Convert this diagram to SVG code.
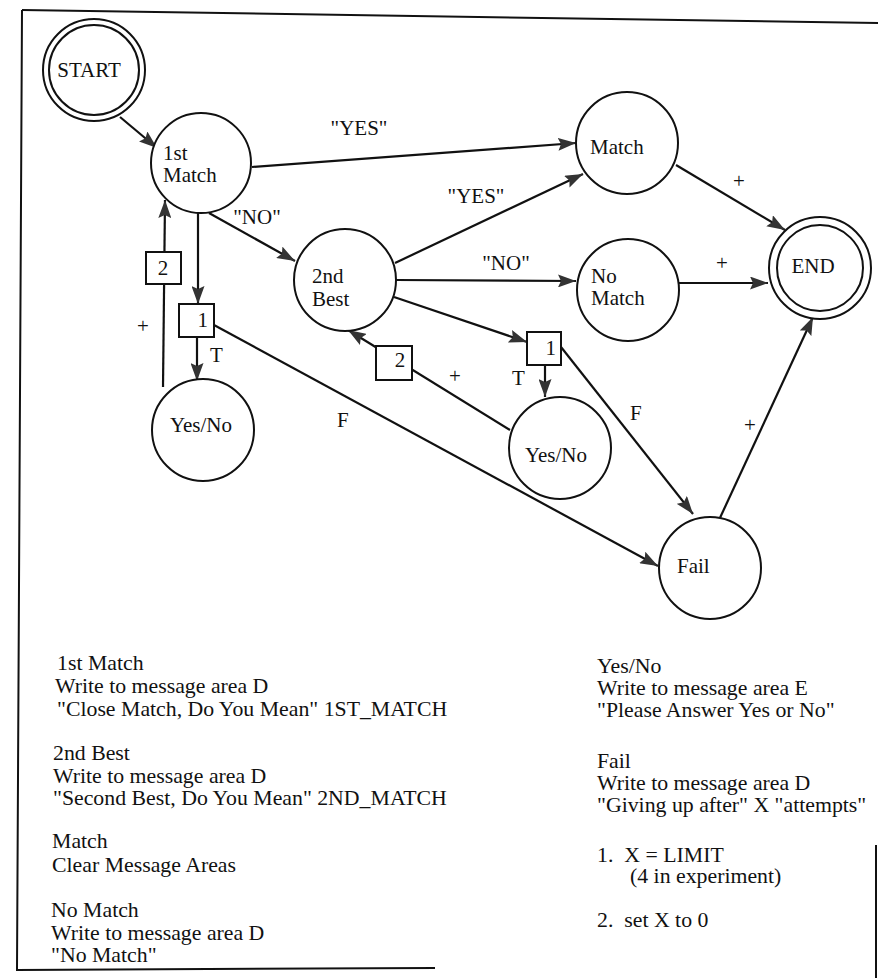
<svg xmlns="http://www.w3.org/2000/svg" width="878" height="978" viewBox="0 0 878 978">
<style>
text{font-family:"Liberation Serif","Times New Roman",serif;fill:#111;white-space:pre}
.n{font-size:21px}
.l{font-size:21.8px}
.c{fill:#fff;stroke:#111;stroke-width:2}
.b{fill:#fff;stroke:#111;stroke-width:2}
.e{stroke:#111;stroke-width:2.2;fill:none;marker-end:url(#ah)}
.f{stroke:#111;stroke-width:2;fill:none}
</style>
<defs>
<marker id="ah" markerUnits="userSpaceOnUse" markerWidth="19" markerHeight="13" refX="18" refY="6.5" orient="auto">
<path d="M0,0 L18,6.5 L0,13 L3,6.5 z" fill="#333"/>
</marker>
</defs>
<rect width="878" height="978" fill="#fff"/>
<g id="frame">
<path class="f" d="M22,10 L878,23"/>
<path class="f" d="M22,10 L17,970 L435,968"/>
<path class="f" d="M876,845 L876,978"/>
</g>
<g id="connectors">
<line class="e" x1="120" y1="117" x2="157" y2="148"/>
<line class="e" x1="252" y1="167" x2="576" y2="143"/>
<line class="e" x1="209" y1="213" x2="295" y2="261"/>
<line class="e" x1="198" y1="213" x2="198" y2="304"/>
<line class="e" x1="197" y1="337" x2="197" y2="381"/>
<line class="e" x1="163" y1="387" x2="165" y2="200"/>
<line class="e" x1="214" y1="325" x2="658" y2="566"/>
<line class="e" x1="395" y1="263" x2="583" y2="174"/>
<line class="e" x1="396" y1="280" x2="576" y2="281"/>
<line class="e" x1="394" y1="297" x2="527" y2="342"/>
<line class="e" x1="545" y1="365" x2="545" y2="397"/>
<line class="e" x1="561" y1="347" x2="693" y2="514"/>
<line class="e" x1="510" y1="430" x2="348" y2="330"/>
<line class="e" x1="676" y1="165" x2="785" y2="230"/>
<line class="e" x1="679" y1="283" x2="768" y2="283"/>
<line class="e" x1="719" y1="520" x2="813" y2="317"/>
<g class="n">
<text x="359" y="135" text-anchor="middle">"YES"</text>
<text x="257" y="224" text-anchor="middle">"NO"</text>
<text x="476" y="203" text-anchor="middle">"YES"</text>
<text x="506" y="270" text-anchor="middle">"NO"</text>
<text x="210" y="362">T</text>
<text x="512" y="385">T</text>
<text x="337" y="427">F</text>
<text x="630" y="420">F</text>
<text x="143" y="333" text-anchor="middle">+</text>
<text x="455" y="383" text-anchor="middle">+</text>
<text x="739" y="188" text-anchor="middle">+</text>
<text x="722" y="270" text-anchor="middle">+</text>
<text x="750" y="432" text-anchor="middle">+</text>
</g>
</g>
<g id="start"><circle class="c" cx="94" cy="70" r="51"/><circle class="c" cx="94" cy="70" r="45"/><text class="n" x="89" y="77" text-anchor="middle">START</text></g>
<g id="first-match"><circle class="c" cx="201" cy="163" r="50"/><text class="n" x="163" y="160">1st</text><text class="n" x="163" y="182">Match</text></g>
<g id="match"><circle class="c" cx="627" cy="143" r="51"/><text class="n" x="590" y="154">Match</text></g>
<g id="no-match"><circle class="c" cx="628" cy="290" r="51"/><text class="n" x="591" y="283">No</text><text class="n" x="591" y="305">Match</text></g>
<g id="end"><circle class="c" cx="820" cy="268" r="51"/><circle class="c" cx="820" cy="268" r="43"/><text class="n" x="813" y="273" text-anchor="middle">END</text></g>
<g id="second-best"><circle class="c" cx="345" cy="280" r="51"/><text class="n" x="312" y="283">2nd</text><text class="n" x="312" y="306">Best</text></g>
<g id="yesno-left"><circle class="c" cx="203" cy="430" r="51"/><text class="n" x="201" y="432" text-anchor="middle">Yes/No</text></g>
<g id="yesno-right"><circle class="c" cx="560" cy="448" r="51"/><text class="n" x="556" y="462" text-anchor="middle">Yes/No</text></g>
<g id="fail"><circle class="c" cx="710" cy="568" r="51"/><text class="n" x="677" y="573">Fail</text></g>
<g id="box2-left"><rect class="b" x="146" y="252" width="35" height="32"/><text class="n" x="163" y="275" text-anchor="middle">2</text></g>
<g id="box1-left"><rect class="b" x="179" y="304" width="35" height="33"/><text class="n" x="208" y="327" text-anchor="end">1</text></g>
<g id="box2-right"><rect class="b" x="376" y="346" width="36" height="34"/><text class="n" x="400" y="367" text-anchor="middle">2</text></g>
<g id="box1-right"><rect class="b" x="527" y="332" width="34" height="33"/><text class="n" x="556" y="355" text-anchor="end">1</text></g>
<g id="legend-left" class="l">
<text x="57" y="670">1st Match</text>
<text x="55" y="693">Write to message area D</text>
<text x="57" y="716">"Close Match, Do You Mean" 1ST_MATCH</text>
<text x="53" y="760">2nd Best</text>
<text x="53" y="783">Write to message area D</text>
<text x="53" y="805">"Second Best, Do You Mean" 2ND_MATCH</text>
<text x="52" y="848">Match</text>
<text x="52" y="872">Clear Message Areas</text>
<text x="51" y="917">No Match</text>
<text x="51" y="940">Write to message area D</text>
<text x="51" y="962">"No Match"</text>
</g>
<g id="legend-right" class="l">
<text x="597" y="673">Yes/No</text>
<text x="597" y="695">Write to message area E</text>
<text x="597" y="717">"Please Answer Yes or No"</text>
<text x="597" y="768">Fail</text>
<text x="597" y="790">Write to message area D</text>
<text x="597" y="812">"Giving up after" X "attempts"</text>
<text x="597" y="862" xml:space="preserve">1.  X = LIMIT</text>
<text x="630" y="883">(4 in experiment)</text>
<text x="597" y="927" xml:space="preserve">2.  set X to 0</text>
</g>
</svg>
